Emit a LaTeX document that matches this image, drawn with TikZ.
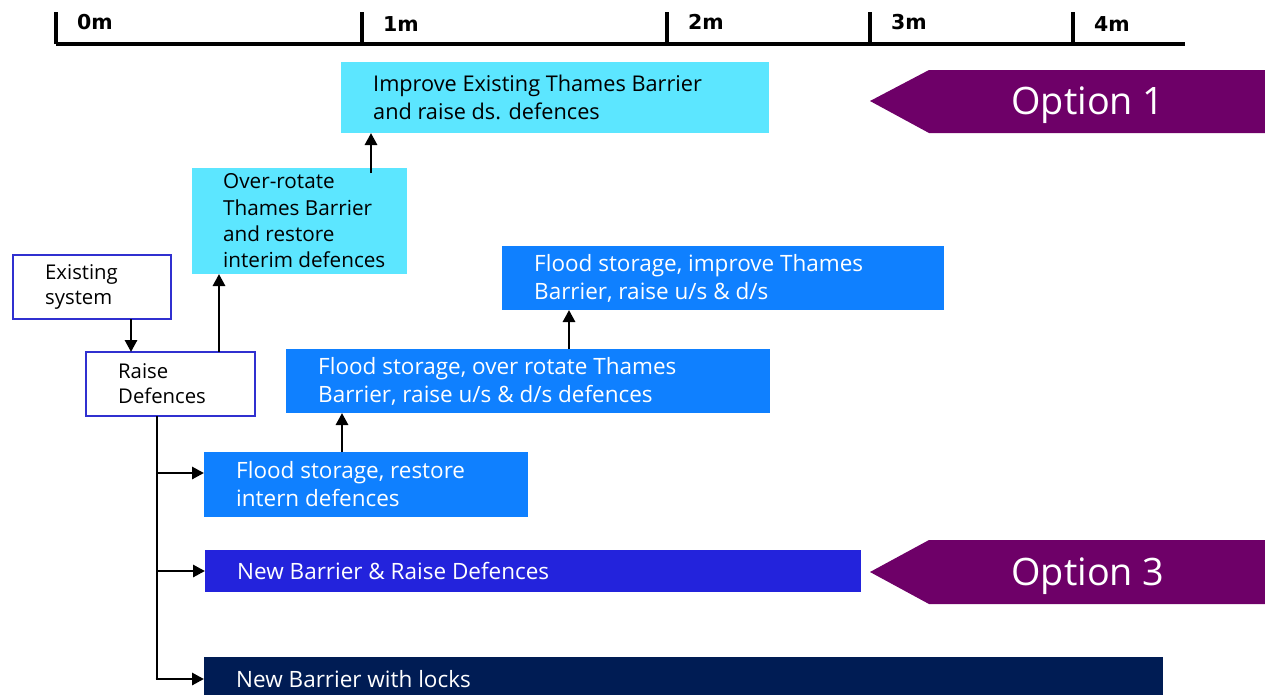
\documentclass[tikz,border=0pt]{standalone}
\usepackage{fontspec}
\setmainfont{Open Sans}
\newfontfamily\axisfont{DejaVu Sans}
\usetikzlibrary{arrows.meta}
\definecolor{paleblue}{HTML}{5CE6FF}
\definecolor{midblue}{HTML}{0F80FF}
\definecolor{royal}{HTML}{2323DC}
\definecolor{navy}{HTML}{001C54}
\definecolor{optpurple}{HTML}{6E0068}
\definecolor{frameblue}{HTML}{3030D0}
\begin{document}
\begin{tikzpicture}[x=1pt,y=-1pt,
  box/.style={rectangle, inner sep=0pt, outer sep=0pt, anchor=north west},
  pale/.style={box, fill=paleblue},
  mid/.style={box, fill=midblue},
  framed/.style={box, fill=white, draw=frameblue, line width=1.6pt},
  txt/.style={anchor=west, align=left, inner sep=0pt, font=\fontsize{21.7}{28}\selectfont},
  wtxt/.style={txt, text=white, font=\fontsize{22.5}{28}\selectfont},
  axlbl/.style={anchor=west, inner sep=0pt, font=\axisfont\bfseries\fontsize{20.5}{20.5}\selectfont},
  opttxt/.style={text=white, inner sep=0pt, anchor=base, font=\fontsize{37.8}{37.8}\selectfont},
  line/.style={line width=2.9pt},
  arr/.style={line, -{Triangle[length=12pt,width=12pt]}}]
\useasboundingbox (0,0) rectangle (1265,694);
\clip (0,0) rectangle (1265,694);

% scale axis
\coordinate (ax0) at (56,44);
\coordinate (ax1) at (1185,44);
\draw[line width=3.2pt] (ax0) -- (ax1);
\foreach \x/\l/\y in {56/0m/22, 362/1m/24, 667/2m/22, 870/3m/22, 1073/4m/24} {
  \coordinate (t\l) at (\x,44);
  \draw[line width=3.2pt] (t\l) -- ++(0,-32);
  \node[axlbl] (lbl\l) at (\x+21,\y) {\l};
}

% option boxes
\node[pale, minimum width=428pt, minimum height=71pt] (improve) at (341,62) {};
\node[txt] (improvetxt) at ([xshift=32pt]improve.west) {Improve Existing Thames Barrier\\and raise ds. defences};

\node[pale, minimum width=215pt, minimum height=106pt] (overrot) at (192,168) {};
\node[txt, font=\fontsize{20.7}{26.3}\selectfont] (overrottxt) at ([xshift=31pt]overrot.west) {Over-rotate\\Thames Barrier\\and restore\\interim defences};

\node[framed, minimum width=158pt, minimum height=64pt] (exist) at (13,255) {};
\node[txt, font=\fontsize{20.3}{25}\selectfont] (existtxt) at ([xshift=32pt]exist.west) {Existing\\system};

\node[framed, minimum width=169pt, minimum height=64pt] (raise) at (86,352) {};
\node[txt, font=\fontsize{20.3}{25}\selectfont] (raisetxt) at ([xshift=32pt]raise.west) {Raise\\Defences};

\node[mid, minimum width=442pt, minimum height=64pt] (fsimp) at (502,246) {};
\node[wtxt] (fsimptxt) at ([xshift=32pt]fsimp.west) {Flood storage, improve Thames\\Barrier, raise u/s \& d/s};

\node[mid, minimum width=484pt, minimum height=64pt] (fsover) at (286,349) {};
\node[wtxt] (fsovertxt) at ([xshift=32pt]fsover.west) {Flood storage, over rotate Thames\\Barrier, raise u/s \& d/s defences};

\node[mid, minimum width=324pt, minimum height=65pt] (fsrest) at (204,452) {};
\node[wtxt] (fsresttxt) at ([xshift=32pt]fsrest.west) {Flood storage, restore\\intern defences};

\node[box, fill=royal, minimum width=656pt, minimum height=42pt] (newbar) at (205,550) {};
\node[wtxt] (newbartxt) at ([xshift=32pt]newbar.west) {New Barrier \& Raise Defences};

\node[box, fill=navy, minimum width=959pt, minimum height=44pt] (locks) at (204,657) {};
\node[wtxt] (lockstxt) at ([xshift=32pt]locks.west) {New Barrier with locks};

% option markers
\fill[optpurple] (870,101) -- (929,70) -- (1265,70) -- (1265,133) -- (929,133) -- cycle;
\node[opttxt] (opt1) at (1088,114) {Option 1};
\fill[optpurple] (870,572) -- (929,540) -- (1265,540) -- (1265,604) -- (929,604) -- cycle;
\node[opttxt] (opt3) at (1088,585) {Option 3};

% connectors
\coordinate (cA) at (131,0);
\draw[arr] (exist.south -| cA) -- (raise.north -| cA);
\coordinate (cB) at (219,0);
\draw[arr] (raise.north -| cB) -- (overrot.south -| cB);
\coordinate (cC) at (371,0);
\draw[arr] ([yshift=-5pt]overrot.north -| cC) -- (improve.south -| cC);
\coordinate (cD) at (342,0);
\draw[arr] (fsrest.north -| cD) -- (fsover.south -| cD);
\coordinate (cE) at (569,0);
\draw[arr] (fsover.north -| cE) -- (fsimp.south -| cE);

% trunk below Raise Defences
\coordinate (trunk) at (157,0);
\coordinate (br1) at (0,473);
\coordinate (br2) at (0,571);
\coordinate (br3) at (0,679);
\draw[line] (raise.south -| trunk) -- (trunk |- br3) -- ++(1pt,0);
\draw[arr] (trunk |- br1) -- (fsrest.west |- br1);
\draw[arr] (trunk |- br2) -- (newbar.west |- br2);
\draw[arr] ([xshift=-1.45pt]trunk |- br3) -- (locks.west |- br3);
\end{tikzpicture}
\end{document}
